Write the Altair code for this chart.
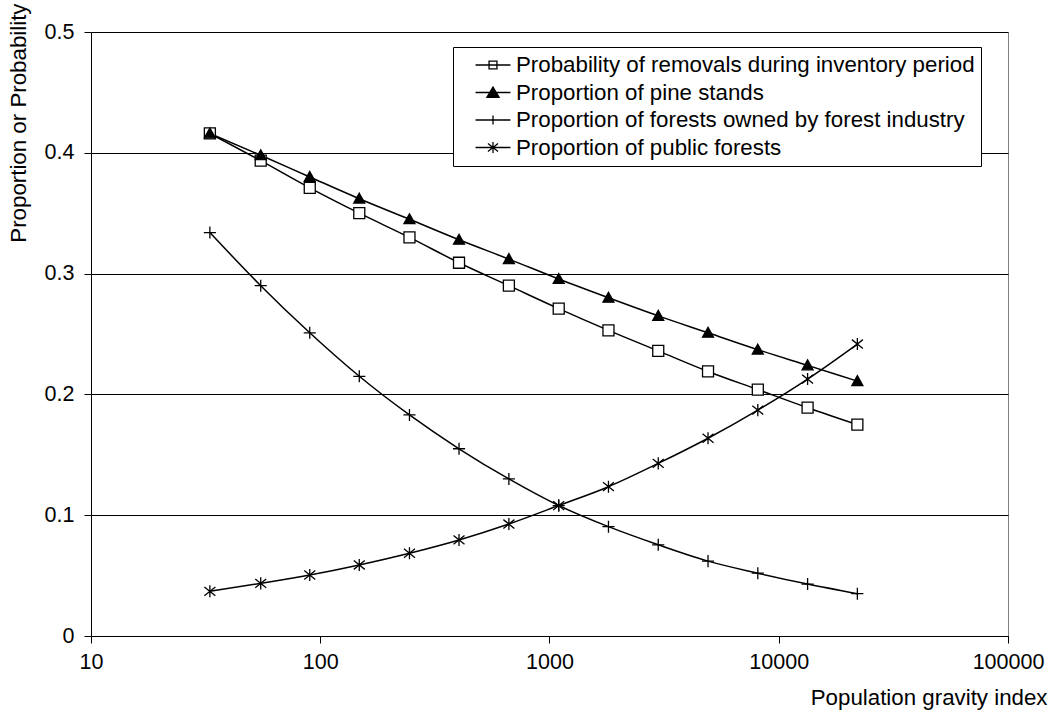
import altair as alt
import pandas as pd

# ---- data ----
x_vals = [33, 55, 90, 148, 245, 403, 665, 1097, 1808, 2981, 4915, 8103, 13360, 22026]
series_names = [
    "Probability of removals during inventory period",
    "Proportion of pine stands",
    "Proportion of forests owned by forest industry",
    "Proportion of public forests",
]
removals = [0.416, 0.3935, 0.371, 0.350, 0.330, 0.309, 0.290, 0.271, 0.253, 0.236, 0.219, 0.204, 0.189, 0.175]
pine = [0.416, 0.398, 0.380, 0.362, 0.345, 0.328, 0.312, 0.2955, 0.280, 0.265, 0.251, 0.237, 0.224, 0.211]
industry = [0.334, 0.290, 0.251, 0.215, 0.183, 0.155, 0.130, 0.108, 0.0905, 0.0755, 0.062, 0.052, 0.043, 0.035]
public = [0.037, 0.0436, 0.0505, 0.0588, 0.0685, 0.0795, 0.0927, 0.108, 0.1236, 0.1429, 0.1637, 0.187, 0.2127, 0.2417]
x_ticks = [10, 100, 1000, 10000, 100000]
y_ticks = [0, 0.1, 0.2, 0.3, 0.4, 0.5]

rows = []
for name, vals in zip(series_names, [removals, pine, industry, public]):
    for xv, yv in zip(x_vals, vals):
        rows.append({"x": xv, "y": yv, "series": name})
df = pd.DataFrame(rows)

FONT = "Liberation Sans"
FS_TICK = 21.5
FS_TEXT = 22.3

# marker shapes (unit box -1..1)
plot_paths = [
    "M-1,-1H1V1H-1Z",
    "M0,-1L1,0.8H-1Z",
    "M-1.1,0H1.1M0,-1.1V1.1",
    "M0,-1.1V1.1M-1,-0.8L1,0.8M-1,0.8L1,-0.8",
]
legend_paths = [
    "M-0.97,0H0.97M-0.22,-0.22H0.22V0.22H-0.22Z",
    "M-0.97,0H0.97M0,-0.3L0.34,0.27H-0.34Z",
    "M-0.97,0H0.97M0,-0.25V0.25",
    "M-0.97,0H0.97M0,-0.3V0.3M-0.28,-0.22L0.28,0.22M-0.28,0.22L0.28,-0.22",
]
fills = ["white", "black", "black", "black"]
strokes = ["black", "black", "black", "black"]

x_enc = alt.X(
    "x:Q",
    scale=alt.Scale(type="log", domain=[10, 100000], nice=False),
    axis=alt.Axis(
        values=x_ticks, format="d", title="Population gravity index", grid=False,
        labelFont=FONT, labelFontSize=FS_TICK, labelColor="black", labelPadding=8,
        tickSize=7, tickColor="black", domainColor="black",
        titleFont=FONT, titleFontSize=FS_TEXT, titleFontWeight="normal", titleColor="black",
        titleX=956, titleY=61, titleAlign="right", titleBaseline="middle",
        labelFlush=False,
    ),
)
y_enc = alt.Y(
    "y:Q",
    scale=alt.Scale(domain=[0, 0.5], nice=False),
    axis=alt.Axis(
        values=y_ticks, format=".1~f", title="Proportion or Probability", grid=True,
        gridColor="black", gridWidth=1,
        labelFont=FONT, labelFontSize=FS_TICK, labelColor="black", labelPadding=10,
        tickSize=7, tickColor="black", domainColor="black",
        titleFont=FONT, titleFontSize=FS_TEXT, titleFontWeight="normal", titleColor="black",
        titleX=-73, titleY=-29, titleAngle=270, titleAlign="right", titleBaseline="middle",
        labelFlush=False,
    ),
)

lines = alt.Chart(df).mark_line(
    color="black", strokeWidth=1.5, interpolate="monotone"
).encode(x=x_enc, y=y_enc, detail="series:N")

points = alt.Chart(df).mark_point(
    filled=True, stroke="black", strokeWidth=1.3, size=121, opacity=1
).encode(
    x="x:Q", y="y:Q",
    shape=alt.Shape("series:N", scale=alt.Scale(domain=series_names, range=plot_paths), legend=None),
    fill=alt.Fill("series:N", scale=alt.Scale(domain=series_names, range=fills), legend=None),
)

leg = alt.Legend(
    orient="none", legendX=362, legendY=15, title=None,
    padding=6, strokeColor="black", fillColor="white",
    symbolSize=1296, symbolStrokeColor="black", symbolStrokeWidth=1.3,
    symbolOffset=15, labelOffset=4, clipHeight=24, rowPadding=3.5,
    labelFont=FONT, labelFontSize=FS_TEXT, labelColor="black", labelLimit=0,
)

legend_layer = alt.Chart(df).transform_filter("false").mark_point(
    filled=True, strokeWidth=1.3, opacity=1
).encode(
    x="x:Q", y="y:Q",
    shape=alt.Shape("series:N", scale=alt.Scale(domain=series_names, range=legend_paths), legend=leg),
    fill=alt.Fill("series:N", scale=alt.Scale(domain=series_names, range=fills), legend=leg),
    stroke=alt.Stroke("series:N", scale=alt.Scale(domain=series_names, range=strokes), legend=leg),
)

chart = alt.layer(lines, points, legend_layer).resolve_scale(
    shape="independent", fill="independent", stroke="independent"
).properties(
    width=917, height=604, autosize="none",
    padding={"left": 91, "top": 32, "right": 45, "bottom": 81},
    background="white",
).configure_view(stroke="#808080", strokeWidth=1)

chart.save("out.html", embed_options={"renderer": "svg", "actions": False})
